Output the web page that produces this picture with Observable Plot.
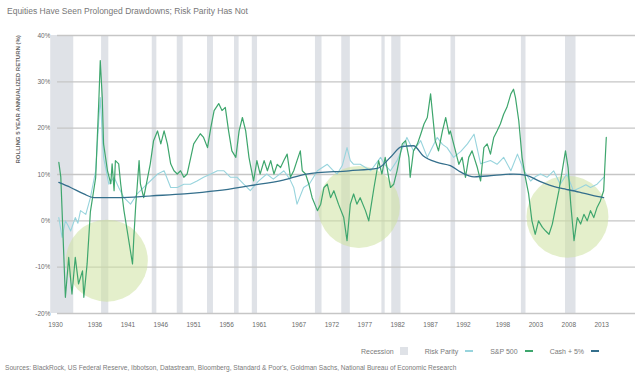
<!DOCTYPE html>
<html><head><meta charset="utf-8">
<script src="https://cdn.jsdelivr.net/npm/d3@7"></script>
<script src="https://cdn.jsdelivr.net/npm/@observablehq/plot@0.6"></script>
<style>
body{margin:0;background:#fff;font-family:"Liberation Sans",Arial,sans-serif;}
#wrap{position:relative;width:640px;height:384px;overflow:hidden;}
#title{position:absolute;left:7px;top:6px;font-size:8.5px;color:#777;white-space:nowrap;}
#chart{position:absolute;left:0;top:24px;}
#legend{position:absolute;left:361px;top:347px;font-size:7px;color:#7a7a7a;white-space:nowrap;display:flex;align-items:center;}
#legend .it{display:flex;align-items:center;margin-right:17px;}
#legend .sw{display:inline-block;width:8px;height:8px;background:#dfe2e7;margin-left:6px;}
#legend .ln{display:inline-block;width:8px;height:1.5px;margin-left:7px;}
#source{position:absolute;left:5px;top:364px;font-size:6.6px;color:#7a7a7a;white-space:nowrap;}
</style></head>
<body><div id="wrap">
<div id="title"></div>
<div id="chart"></div>
<div id="legend"></div>
<div id="source"></div>
</div>
<script>
const titleText = "Equities Have Seen Prolonged Drawdowns; Risk Parity Has Not";
const yAxisTitle = "ROLLING 5 YEAR ANNUALIZED RETURN (%)";
const sourceText = "Sources: BlackRock, US Federal Reserve, Ibbotson, Datastream, Bloomberg, Standard & Poor's, Goldman Sachs, National Bureau of Economic Research";
const seriesNames = ["Recession", "Risk Parity", "S&P 500", "Cash + 5%"];
const xTickLabels = [1930,1936,1941,1946,1951,1956,1961,1967,1972,1977,1982,1987,1992,1998,2003,2008,2013];
const yTicks = [40,30,20,10,0,-10,-20];

// NBER recessions [start, end]
const recessions = [[1929.67,1933.17],[1937.4,1938.5],[1945.1,1945.8],[1948.9,1949.8],[1953.5,1954.4],[1957.6,1958.3],[1960.3,1961.1],[1969.9,1970.9],[1973.9,1975.2],[1980.0,1980.5],[1981.5,1982.9],[1990.5,1991.2],[2001.2,2001.9],[2007.9,2009.5]];

// highlighted drawdown periods [year, value]
const drawdowns = [[1938.2,-8.6],[1976.5,3.0],[2008.2,0.9]];

// S&P 500 rolling 5y annualized return [year, %]
const sp500 = [[1930.9,12.6],[1931.2,9.5],[1931.9,-16.5],[1932.4,-7.9],[1932.9,-15.8],[1933.4,-7.9],[1933.9,-13.6],[1934.5,-10.8],[1934.7,-16.5],[1935.2,-9.3],[1935.7,2.0],[1936.5,9.3],[1937.0,26.6],[1937.2,34.6],[1937.5,26.6],[1937.7,16.6],[1938.3,10.8],[1938.8,8.0],[1939.0,12.3],[1939.3,6.5],[1939.5,13.0],[1940.0,12.3],[1940.3,8.0],[1940.8,2.2],[1941.3,-2.2],[1942.1,-9.3],[1942.3,-3.6],[1942.6,3.6],[1942.8,7.2],[1943.1,13.0],[1943.3,8.0],[1943.8,5.0],[1944.3,8.6],[1944.8,12.3],[1945.3,17.3],[1945.9,19.4],[1946.4,16.6],[1946.9,19.4],[1947.4,16.6],[1947.9,12.3],[1948.4,10.8],[1948.9,10.1],[1949.4,10.8],[1949.9,9.4],[1950.4,10.1],[1951.4,16.6],[1952.4,18.8],[1952.9,18.0],[1953.5,15.8],[1954.0,20.1],[1954.5,23.8],[1955.2,25.3],[1955.7,23.8],[1956.2,24.5],[1956.7,19.4],[1957.2,15.1],[1957.8,13.7],[1958.3,19.4],[1958.8,22.3],[1959.3,19.4],[1959.8,13.7],[1960.0,12.2],[1960.5,8.6],[1961.0,13.0],[1961.5,10.1],[1962.1,13.0],[1962.6,10.8],[1963.1,13.0],[1963.6,10.1],[1964.1,12.2],[1964.6,11.5],[1965.1,13.0],[1965.6,14.4],[1966.1,9.4],[1966.6,10.8],[1967.1,13.0],[1967.6,15.1],[1967.9,10.8],[1968.4,10.1],[1968.9,7.9],[1969.4,5.0],[1970.2,2.2],[1970.7,3.6],[1971.2,7.2],[1971.7,7.9],[1972.2,5.0],[1972.7,6.5],[1973.4,3.6],[1974.2,0.7],[1974.7,-4.3],[1975.2,3.6],[1975.7,5.8],[1976.2,3.6],[1976.7,5.0],[1977.5,2.2],[1978.0,0.0],[1978.8,7.2],[1979.5,13.0],[1980.0,10.1],[1980.5,13.7],[1981.3,7.2],[1981.8,7.9],[1982.3,10.8],[1983.1,16.6],[1983.6,17.3],[1984.1,13.7],[1984.3,9.4],[1984.8,15.1],[1985.4,16.6],[1985.9,18.7],[1986.4,20.9],[1986.9,22.3],[1987.4,27.4],[1987.6,24.5],[1988.1,17.3],[1988.6,15.1],[1989.2,19.4],[1989.7,22.3],[1990.2,18.7],[1990.4,19.4],[1990.9,16.6],[1991.7,12.2],[1992.2,13.7],[1992.7,9.4],[1993.2,13.7],[1993.7,15.1],[1994.5,11.5],[1995.0,8.6],[1995.5,15.8],[1996.0,16.6],[1996.5,14.4],[1997.0,18.0],[1997.5,19.4],[1998.0,20.9],[1998.5,23.0],[1999.0,24.5],[1999.6,27.4],[2000.0,28.4],[2000.3,26.6],[2000.8,21.6],[2001.3,13.7],[2001.8,9.4],[2002.3,5.8],[2002.8,0.0],[2003.3,-2.9],[2003.8,0.0],[2004.4,-1.4],[2004.9,-2.2],[2005.4,-2.9],[2005.9,-0.7],[2006.4,2.9],[2006.9,6.5],[2007.4,10.8],[2007.9,15.1],[2008.3,11.5],[2008.7,3.6],[2009.2,-4.3],[2009.7,0.7],[2010.2,-0.7],[2010.7,1.4],[2011.2,0.0],[2011.7,2.2],[2012.2,0.7],[2012.7,2.9],[2013.2,4.3],[2013.7,6.5],[2014.1,18.0]];

// Risk Parity rolling 5y annualized return [year, %]
const riskParity = [[1930.9,0.7],[1931.4,-3.6],[1931.9,0.0],[1932.3,-1.0],[1932.7,-2.2],[1933.4,0.7],[1933.8,-0.5],[1934.2,2.2],[1935.0,1.4],[1935.7,5.0],[1936.5,10.8],[1937.0,22.3],[1937.2,26.6],[1937.7,13.7],[1938.5,7.9],[1939.3,9.4],[1940.0,7.2],[1940.8,5.0],[1941.8,3.6],[1942.8,5.8],[1943.8,7.2],[1944.8,8.6],[1945.9,10.1],[1946.9,10.8],[1947.9,7.2],[1948.9,7.2],[1949.9,7.9],[1950.9,7.9],[1951.9,8.6],[1952.9,9.4],[1954.0,10.1],[1955.0,10.8],[1956.0,10.8],[1957.0,9.4],[1958.0,9.4],[1959.0,7.9],[1960.0,6.5],[1961.2,8.5],[1962.5,10.1],[1963.5,9.0],[1965.1,10.8],[1966.0,9.0],[1966.6,7.2],[1967.1,3.6],[1968.1,7.2],[1969.0,8.0],[1970.2,10.8],[1971.7,12.2],[1972.5,11.0],[1973.2,10.1],[1974.0,12.0],[1974.7,15.8],[1975.2,13.0],[1975.7,12.2],[1976.7,12.2],[1977.5,11.5],[1978.3,10.8],[1979.8,13.7],[1980.5,12.0],[1981.3,10.8],[1982.3,13.0],[1983.2,16.0],[1983.8,18.0],[1984.8,15.1],[1985.9,17.3],[1986.9,13.7],[1987.7,16.0],[1988.4,18.0],[1989.2,16.5],[1989.9,15.8],[1990.9,13.7],[1992.0,15.0],[1993.0,16.6],[1994.0,18.7],[1995.0,12.3],[1996.5,13.0],[1997.5,12.2],[1998.5,13.7],[1999.6,10.8],[2000.6,14.4],[2001.6,10.8],[2002.6,8.6],[2003.3,9.5],[2004.1,10.1],[2005.1,9.4],[2006.1,10.8],[2007.1,7.9],[2008.1,10.1],[2009.1,6.5],[2010.2,7.2],[2011.0,7.8],[2011.7,7.2],[2012.7,7.9],[2013.7,9.4]];

// Cash + 5% rolling 5y annualized return [year, %]
const cashPlus5 = [[1930.9,8.3],[1932.7,7.2],[1934.7,5.8],[1936.2,5.0],[1940.0,5.0],[1945.0,5.4],[1950.0,5.8],[1955.0,6.5],[1960.0,7.6],[1965.0,8.8],[1968.5,10.1],[1975.0,10.8],[1979.3,11.3],[1981.3,13.7],[1983.0,16.0],[1984.8,16.2],[1986.3,14.0],[1988.4,12.6],[1990.4,11.9],[1992.0,10.5],[1994.0,9.5],[1997.0,9.8],[2000.0,10.1],[2002.0,9.8],[2004.0,8.5],[2006.6,7.2],[2008.0,6.8],[2010.0,6.2],[2012.0,5.5],[2013.7,5.0]];

const colors = {recession:"#dfe2e7", rp:"#98d4dd", sp:"#3ea66d", cash:"#346f8c", grid:"#c6c6c6", circle:"#cde2a0"};

document.getElementById("title").textContent = titleText;
document.getElementById("source").textContent = sourceText;

const leg = document.getElementById("legend");
const legColors = [null, colors.rp, colors.sp, colors.cash];
seriesNames.forEach((n, i) => {
  const it = document.createElement("span"); it.className = "it";
  const t = document.createElement("span"); t.textContent = n; it.appendChild(t);
  const s = document.createElement("span");
  if (i === 0) { s.className = "sw"; } else { s.className = "ln"; s.style.background = legColors[i]; }
  it.appendChild(s); leg.appendChild(it);
});

const chart = Plot.plot({
  width: 640,
  height: 320,
  marginLeft: 57,
  marginRight: 5,
  marginTop: 11,
  marginBottom: 31,
  style: {fontFamily: "'Liberation Sans', Arial, sans-serif", fontSize: "6.5px", color: "#6a6a6a", background: "#fff"},
  x: {domain: [1930.7, 2018.54], ticks: xTickLabels.map(v => v + 0.4), tickFormat: d => String(Math.floor(d)), tickSize: 0, tickPadding: 9, label: null},
  y: {domain: [-20, 40], ticks: yTicks, tickFormat: d => d + "%", tickSize: 0, tickPadding: 7, label: null},
  marks: [
    Plot.rect(recessions, {x1: d => d[0], x2: d => d[1], fill: colors.recession}),
    Plot.ruleY(yTicks, {stroke: colors.grid, strokeWidth: 1.3}),
    Plot.dot(drawdowns, {x: d => d[0], y: d => d[1], r: 41, fill: colors.circle, fillOpacity: 0.55, stroke: null}),
    Plot.line(riskParity, {x: d => d[0], y: d => d[1], stroke: colors.rp, strokeWidth: 1.1}),
    Plot.line(sp500, {x: d => d[0], y: d => d[1], stroke: colors.sp, strokeWidth: 1.2}),
    Plot.line(cashPlus5, {x: d => d[0], y: d => d[1], stroke: colors.cash, strokeWidth: 1.3, curve: "monotone-x"}),
    Plot.text([yAxisTitle], {frameAnchor: "left", dx: -39, dy: -11, rotate: -90, fontSize: 6, fill: "#666", fontWeight: "bold"})
  ]
});
document.getElementById("chart").appendChild(chart);
</script>
</body></html>
